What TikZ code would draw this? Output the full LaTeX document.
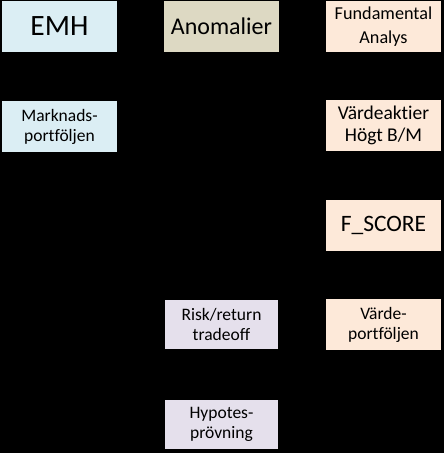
\documentclass[tikz,border=0pt]{standalone}
\usepackage{fontspec}
\setmainfont{Carlito}[Ligatures=NoCommon]
\usepackage{xcolor}
\definecolor{emhblue}{HTML}{DBEEF4}
\definecolor{anomgray}{HTML}{DDD9C3}
\definecolor{fundpeach}{HTML}{FDE9D9}
\definecolor{risklilac}{HTML}{E5E0EC}

\begin{document}
\begin{tikzpicture}[x=1pt, y=1pt, node distance=162pt, auto,
        % Define block style
        block/.style={
        rectangle,
        fill=emhblue,
        align=center,
        inner sep=0pt,
        minimum width=115pt,
        minimum height=51pt
        },
        small/.style={font=\fontsize{17.5}{20}\selectfont},
        big/.style={font=\fontsize{23.5}{26}\selectfont}]
        % Background
        \fill[black] (0,0) rectangle (444,-453);
        \useasboundingbox (0,0) rectangle (444,-453);
        % Nodes
        \node[block, font=\fontsize{29.5}{32}\selectfont] (emh) at (59.5,-26.5) {EMH};
        \node[block, fill=anomgray, font=\fontsize{24}{27}\selectfont, right of=emh] (anomalier) {Anomalier};
        \node[block, fill=fundpeach, font=\fontsize{18.2}{23.5}\selectfont, right of=anomalier] (fundamental) {Fundamental\\Analys};
        \node[block, small, below of=emh, node distance=100pt] (marknad) {Marknads-\\portföljen};
        \node[block, fill=fundpeach, font=\fontsize{19.5}{22}\selectfont, below of=fundamental, node distance=99pt] (vardeaktier) {Värdeaktier\\Högt B/M};
        \node[block, fill=fundpeach, big, below of=vardeaktier, node distance=99.5pt] (fscore) {F\_SCORE};
        \node[block, fill=fundpeach, small, below of=fscore, node distance=99.5pt] (vardeport) {Värde-\\portföljen};
        \node[block, fill=risklilac, small, minimum width=113pt, minimum height=49pt, left of=vardeport] (risk) {Risk/return\\tradeoff};
        \node[block, fill=risklilac, small, minimum width=113pt, minimum height=49pt, below of=risk, node distance=100pt] (hypotes) {Hypotes-\\prövning};
    \end{tikzpicture}
\end{document}
